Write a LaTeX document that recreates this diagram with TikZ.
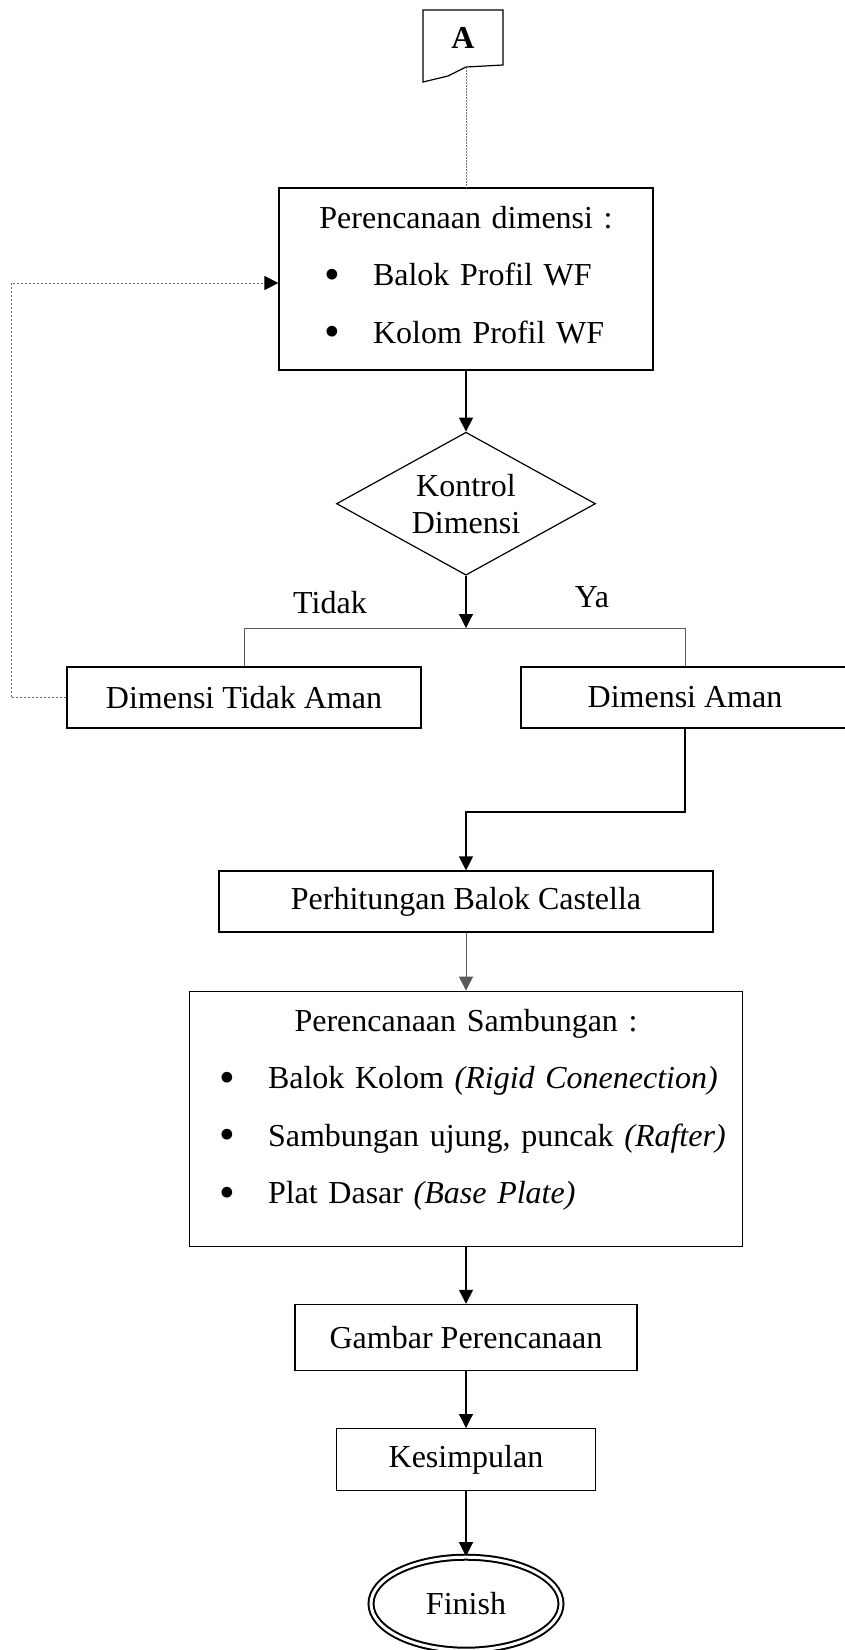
\documentclass[tikz,border=0pt]{standalone}
\usepackage{fontspec}
\setmainfont{Liberation Serif}
\usetikzlibrary{shapes.geometric, positioning, arrows.meta, calc}

\newcommand{\bulletline}[3]{\par\hspace*{#1}\makebox[0pt]{\raisebox{-3.5pt}{\scalebox{1.4}{\textbullet}}}\hspace*{#2}#3}

\begin{document}
\begin{tikzpicture}[x=1pt, y=-1pt, >={Triangle[length=14pt,width=14pt]}, line width=1.2pt,
  every node/.style={font=\fontsize{32}{57.5}\selectfont},
  box/.style={draw, minimum height=61pt, inner sep=0pt, align=center},
  listbox/.style={draw, inner xsep=0pt, inner ysep=0pt},
  decision/.style={draw, diamond, aspect=1.8, inner sep=0pt, minimum width=259pt, minimum height=143pt, align=center, font=\fontsize{32}{37}\selectfont},
  finish/.style={draw, ellipse, double, double distance=3pt, line width=2pt, minimum width=190pt, minimum height=93pt},
  alur/.style={->},
  tipis/.style={draw=black!65, line width=1pt},
  atas/.style={draw=black!55, line width=0.8pt, dash pattern=on 1.5pt off 1.5pt},
  balik/.style={-{Triangle[length=14pt,width=14pt,color=black]}, draw=black!60, line width=1pt, dash pattern=on 2pt off 2pt}]
  \useasboundingbox (0,0) rectangle (845,1650);

  % off-page connector
  \node[font=\bfseries\fontsize{32}{38}\selectfont, minimum width=80pt, minimum height=56pt, inner sep=0pt] (A) at (463,38) {A};
  \draw (423,10) -- (503,10) -- (503,65) -- (466,67) -- (448,76) -- (423,82) -- cycle;
  \coordinate (A-ujung) at (466,67);

  \node[listbox, text width=374pt, minimum height=182pt, text depth=124pt] (rencana) at (466,279) {%
    {\centering Perencanaan dimensi :\par}
    \bulletline{53pt}{41pt}{Balok Profil WF}
    \bulletline{53pt}{41pt}{Kolom Profil WF}};
  \node[decision, below=61pt of rencana] (kontrol) {Kontrol\\Dimensi};

  \coordinate (cabang) at (466,628);
  \node[anchor=base] (tidak-label) at (330,613) {Tidak};
  \node[anchor=base] (ya-label) at (592,607) {Ya};
  \node[box, minimum width=354pt] (tidak) at (244,697.5) {Dimensi Tidak Aman};
  \node[box, minimum width=328pt] (aman) at (685,697.5) {Dimensi Aman};

  \coordinate (belok) at (466,812);
  \node[box, minimum width=494pt] (castella) at (466,901.5) {Perhitungan Balok Castella};
  \node[listbox, text width=553pt, minimum height=255pt, text depth=197pt, below=58pt of castella] (sambungan) {%
    {\centering Perencanaan Sambungan :\par}
    \bulletline{37.5pt}{41pt}{Balok Kolom \textit{(Rigid Conenection)}}
    \bulletline{37.5pt}{41pt}{Sambungan ujung, puncak \textit{(Rafter)}}
    \bulletline{37.5pt}{41pt}{Plat Dasar \textit{(Base Plate)}}};
  \node[box, minimum width=342pt, minimum height=66pt, below=57pt of sambungan] (gambar) {Gambar Perencanaan};
  \node[box, minimum width=259pt, minimum height=62pt, below=57pt of gambar] (kesimpulan) {Kesimpulan};
  \node[finish, below=65pt of kesimpulan] (selesai) {Finish};

  \coordinate (kiri) at (11,283);

  \draw[atas] (A-ujung) -- (rencana.north);
  \draw[alur] (rencana) -- (kontrol);
  \draw[alur] (kontrol) -- (cabang);
  \draw[tipis] (tidak.north) |- (cabang) -| (aman.north);
  \draw[alur] (aman.south) |- (belok) -- (castella.north);
  \draw[alur, tipis] (castella) -- (sambungan);
  \draw[alur] (sambungan) -- (gambar);
  \draw[alur] (gambar) -- (kesimpulan);
  \draw[alur] (kesimpulan) -- (selesai);
  \draw[balik] (tidak.west) -| (kiri) -- (kiri -| rencana.west);
\end{tikzpicture}
\end{document}
